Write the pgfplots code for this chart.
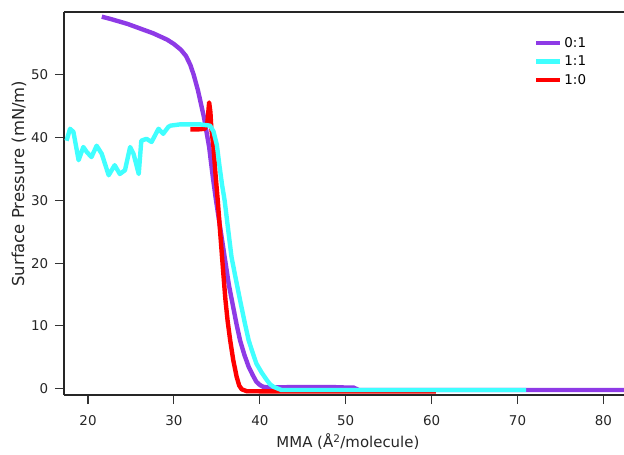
\documentclass[border=0pt]{standalone}
\usepackage{pgfplots}
\pgfplotsset{compat=1.18}
\usepackage{fontspec}
\setmainfont{DejaVu Sans}
\definecolor{cpurple}{RGB}{142,58,230}
\definecolor{ccyan}{RGB}{64,255,255}
\definecolor{cred}{RGB}{255,0,0}
\begin{document}
\fontsize{14}{16}\selectfont
\begin{tikzpicture}
\begin{axis}[scale only axis,
  width=560bp, height=383bp,
  xmin=17.2, xmax=82.4, ymin=-1, ymax=60,
  axis x line*=bottom, axis y line*=left,
  xtick={20,30,...,80}, ytick={0,10,...,50},
  tick align=outside, major tick length=9bp,
  tick style={line width=1.1bp, black!80},
  axis line style={line width=1.2bp, black!85},
  /pgf/number format/assume math mode=true,
  ticklabel style={font=\fontsize{13.5}{15}\selectfont, text=black!85},
  xticklabel style={yshift=-7bp},
  yticklabel style={xshift=-2bp},
  xlabel={MMA (Å\textsuperscript{2}/molecule)},
  ylabel={Surface Pressure (mN/m)},
  xlabel style={font=\fontsize{15}{17}\selectfont, text=black!85,
    at={(axis description cs:0.507,-0.1227)}, anchor=center},
  ylabel style={font=\fontsize{16.5}{18}\selectfont, text=black!85,
    at={(axis description cs:-0.0804,0.552)}, anchor=center},
  legend style={at={(rel axis cs:0.839,0.94)}, anchor=north west, draw=none, fill=none,
    font=\fontsize{13.5}{15}\selectfont, row sep=2.5bp, inner sep=0pt},
  legend cell align=left,
  legend image code/.code={\draw[#1] (0bp,0bp) -- (24bp,0bp);},
  every axis plot/.append style={line width=4.4bp, line join=round},
]
\coordinate (ll) at (rel axis cs:0,0);
\coordinate (ur) at (rel axis cs:1,1);
\draw[line width=1.2bp, black!85] (rel axis cs:0,1) -- (rel axis cs:1,1);
\addlegendimage{cpurple, line width=4.4bp}\addlegendentry{0:1}
\addlegendimage{ccyan, line width=4.4bp}\addlegendentry{1:1}
\addlegendimage{cred, line width=4.4bp}\addlegendentry{1:0}
% 0:1
\addplot[cpurple, forget plot] coordinates {
(21.6,59.25)(22.6,58.9)(23.6,58.5)(24.6,58.1)(25.6,57.6)(26.6,57.1)(27.6,56.6)(28.4,56.1)(29.2,55.6)
(30.0,54.9)(30.8,54.0)(31.4,53.0)(31.9,51.6)(32.3,50.0)(32.8,47.5)(33.5,43.2)(34.1,38.5)(34.5,34.0)(34.9,30.0)
(35.4,25.5)(35.9,21.0)(36.4,16.5)(36.9,13.0)(37.3,10.2)(37.7,7.7)(38.2,5.4)(38.7,3.5)
(39.2,2.1)(39.6,1.1)(40.0,0.6)(40.4,0.3)(41.0,0.2)(43.5,0.25)(48.7,0.25)(49.8,0.2)(50.9,0.2)
(51.5,-0.2)(60,-0.2)(71,-0.2)(83,-0.2)
};
% 1:0
\addplot[cred, forget plot] coordinates {
(31.9,41.3)(32.8,41.3)(33.6,41.4)(33.9,42.5)(34.1,45.6)(34.25,44.0)(34.35,41.5)
(34.6,38.5)(34.85,34.0)(35.1,30.0)(35.35,25.5)(35.6,21.0)(35.8,17.5)(36.0,14.1)(36.25,10.8)
(36.55,7.7)(36.9,4.6)(37.3,1.9)(37.6,0.5)(37.9,-0.1)(38.5,-0.4)(45,-0.45)(60.5,-0.45)
};
% 1:1
\addplot[ccyan, forget plot] coordinates {
(17.5,39.5)(17.9,41.4)(18.3,40.9)(18.9,36.4)(19.45,38.5)(19.85,37.7)(20.4,36.9)(21.0,38.7)
(21.6,37.4)(22.4,34.0)(23.1,35.6)(23.7,34.2)(24.3,34.8)(24.9,38.5)(25.3,37.4)(25.9,34.2)
(26.2,39.5)(26.8,39.8)(27.4,39.3)(28.2,41.4)(28.75,40.6)(29.35,41.7)(29.6,41.9)(30.7,42.1)
(32.0,42.1)(33.05,42.1)(34.2,41.9)(34.6,41.0)(35.0,38.8)(35.3,35.5)(35.6,32.5)(35.9,30.0)
(36.3,25.5)(36.7,21.0)(37.2,17.5)(37.7,14.1)(38.2,10.8)(38.7,7.7)(39.2,5.6)(39.6,4.0)
(40.2,2.6)(40.8,1.4)(41.2,0.7)(41.6,0.3)(42.5,-0.2)(55,-0.2)(71.0,-0.2)
};
\end{axis}
\pgfresetboundingbox
\path[use as bounding box] ([shift={(-64bp,-60bp)}]ll) rectangle ([shift={(0bp,12bp)}]ur);
\end{tikzpicture}
\end{document}
